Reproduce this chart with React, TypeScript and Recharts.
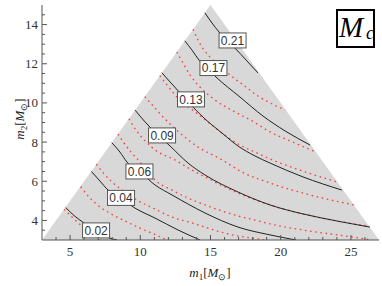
import React from 'react';
import { ComposedChart, XAxis, YAxis, Line, Area, Scatter } from 'recharts';

// allowed region (m2 <= m1, m1 + m2 <= 30)
const regionX = [3, 15, 27];
const regionY = [3, 15, 3];

const xMajorTicks = [5, 10, 15, 20, 25];
const xMinorTicks = [4, 6, 7, 8, 9, 11, 12, 13, 14, 16, 17, 18, 19, 21, 22, 23, 24, 26];
const yMajorTicks = [4, 6, 8, 10, 12, 14];
const yMinorTicks = [3.5, 4.5, 5, 5.5, 6.5, 7, 7.5, 8.5, 9, 9.5, 10.5, 11, 11.5, 12.5, 13, 13.5, 14.5];

// black (solid) contours
const black002 = [[4.68, 4.66], [5.28, 4.25], [5.99, 3.87], [6.85, 3.46], [7.7, 3.13], [8.34, 3.0]];
const black004 = [[6.52, 6.5], [7.13, 6.01], [7.63, 5.6], [8.63, 5.12], [9.62, 4.63], [11.05, 4.12], [12.69, 3.51], [14.25, 3.0]];
const black006 = [[7.97, 7.97], [8.55, 7.49], [9.05, 6.98], [9.94, 6.5], [11.05, 5.81], [12.26, 5.3], [14.61, 4.38], [16.96, 3.66], [19.24, 3.26], [21.09, 3.0]];
const black009 = [[9.63, 9.63], [10.34, 9.03], [11.19, 8.41], [12.12, 7.8], [13.4, 6.93], [14.61, 6.32], [16.96, 5.45], [19.24, 4.79], [21.59, 4.33], [24.01, 3.97], [26.36, 3.66]];
const black013 = [[11.54, 11.54], [12.12, 11.07], [12.83, 10.51], [13.75, 9.79], [14.61, 9.18], [15.82, 8.46], [16.96, 7.8], [18.17, 7.29], [19.24, 6.93], [21.59, 6.22], [24.36, 5.55]];
const black017 = [[13.17, 13.17], [13.68, 12.7], [14.18, 12.19], [14.75, 11.78], [15.32, 11.37], [17.1, 10.3], [18.74, 9.33], [20.31, 8.57], [22.09, 7.85]];
const black021 = [[14.6, 14.6], [15.11, 14.08], [15.61, 13.62], [16.17, 13.21], [16.74, 12.8], [17.6, 12.14], [18.38, 11.53]];

// red (dotted) contours
const red1 = [[4.57, 4.57], [5.14, 4.17], [5.85, 3.71], [6.56, 3.36], [7.13, 3.0]];
const red2 = [[5.75, 5.72], [6.42, 5.14], [7.13, 4.69], [8.06, 4.28], [9.05, 3.92], [10.12, 3.56], [11.12, 3.26], [11.9, 3.0]];
const red3 = [[6.87, 6.87], [7.49, 6.32], [7.99, 5.96], [8.91, 5.45], [9.77, 5.04], [11.05, 4.58], [12.26, 4.17], [13.68, 3.87], [14.82, 3.61], [16.53, 3.26], [17.96, 3.1], [18.81, 3.0]];
const red4 = [[8.41, 8.41], [8.84, 7.95], [9.34, 7.49], [9.98, 6.98], [10.55, 6.47], [11.05, 6.06], [12.26, 5.55], [13.4, 5.14], [14.61, 4.79], [15.82, 4.48], [16.96, 4.23], [18.17, 4.02], [19.24, 3.82], [21.59, 3.51], [24.01, 3.26], [26.5, 3.0]];
const red5 = [[9.19, 9.19], [9.69, 8.62], [10.34, 8.06], [11.05, 7.6], [12.47, 7.09], [13.54, 6.63], [14.61, 6.22], [16.96, 5.4], [19.24, 4.79], [21.59, 4.33], [24.01, 3.97], [26.22, 3.71]];
const red6 = [[10.32, 10.32], [11.05, 9.74], [11.62, 9.28], [12.12, 8.92], [12.83, 8.46], [13.9, 7.85], [15.82, 7.09], [17.24, 6.47], [19.24, 5.91], [22.09, 5.3], [25.22, 4.79]];
const red7 = [[11.39, 11.39], [11.97, 10.86], [12.54, 10.35], [13.26, 9.89], [13.9, 9.54], [14.82, 9.03], [15.82, 8.46], [17.1, 7.85], [18.17, 7.49], [19.24, 7.14], [21.37, 6.57], [24.01, 5.96]];
const red8 = [[12.6, 12.6], [13.04, 12.04], [13.54, 11.43], [14.25, 10.81], [15.32, 10.15], [16.74, 9.54], [17.96, 9.08], [19.24, 8.52], [20.66, 8.06], [22.51, 7.49]];
const red9 = [[13.76, 13.76], [14.11, 13.21], [14.54, 12.7], [15.11, 12.24], [15.82, 11.78], [16.67, 11.27], [17.53, 10.81], [18.38, 10.35], [19.24, 10.0], [20.31, 9.64]];

// contour labels
const labelText = ['0.02', '0.04', '0.06', '0.09', '0.13', '0.17', '0.21'];
const labelX = [6.85, 8.63, 9.94, 11.55, 13.61, 15.21, 16.57];
const labelY = [3.49, 5.15, 6.5, 8.34, 10.18, 11.78, 13.19];

const blackSets = [black002, black004, black006, black009, black013, black017, black021];
const redSets = [red1, red2, red3, red4, red5, red6, red7, red8, red9];

const pts = (arr: number[][]) => arr.map(([x, y]) => ({ x, y }));
const regionData = regionX.map((x, i) => ({ x, y: regionY[i] }));
const labelData = labelText.map((t, i) => ({ x: labelX[i], y: labelY[i], label: t }));
const xTicks = [...xMajorTicks, ...xMinorTicks].sort((a, b) => a - b);
const yTicks = [...yMajorTicks, ...yMinorTicks].sort((a, b) => a - b);

const FRAME = '#555';
const SERIF = '"Liberation Serif", "Times New Roman", serif';

const BottomTick = (props: any) => {
  const { x, y, payload } = props;
  const major = xMajorTicks.includes(payload.value);
  return (
    <g>
      <line x1={x} x2={x} y1={y} y2={y - (major ? 5 : 3)} stroke={FRAME} strokeWidth={1} />
      {major && (
        <text x={x} y={y + 16} textAnchor="middle" fontFamily={SERIF} fontSize={13} fill="#333">
          {payload.value}
        </text>
      )}
    </g>
  );
};
const TopTick = (props: any) => {
  const { x, y, payload } = props;
  const major = xMajorTicks.includes(payload.value);
  return <line x1={x} x2={x} y1={y} y2={y + (major ? 5 : 3)} stroke={FRAME} strokeWidth={1} />;
};
const LeftTick = (props: any) => {
  const { x, y, payload } = props;
  const major = yMajorTicks.includes(payload.value);
  return (
    <g>
      <line x1={x} x2={x + (major ? 5 : 3)} y1={y} y2={y} stroke={FRAME} strokeWidth={1} />
      {major && (
        <text x={x - 4} y={y + 4.5} textAnchor="end" fontFamily={SERIF} fontSize={13} fill="#333">
          {payload.value}
        </text>
      )}
    </g>
  );
};
const RightTick = (props: any) => {
  const { x, y, payload } = props;
  const major = yMajorTicks.includes(payload.value);
  return <line x1={x} x2={x - (major ? 5 : 3)} y1={y} y2={y} stroke={FRAME} strokeWidth={1} />;
};

const LabelBox = (props: any) => {
  const { cx, cy } = props;
  const label = props.payload?.label ?? props.label;
  return (
    <g>
      <rect x={cx - 13.5} y={cy - 7.5} width={27} height={15} fill="#fff" stroke="#555" strokeWidth={1} />
      <text x={cx} y={cy + 4.3} textAnchor="middle" fontFamily='"Liberation Sans", Arial, sans-serif' fontSize={12} fill="#333">
        {label}
      </text>
    </g>
  );
};

export default function App() {
  return (
    <div style={{ position: 'absolute', left: 0, top: 0, width: 382, height: 286, background: '#fff' }}>
      <ComposedChart width={382} height={286} data={regionData} margin={{ top: 5, right: 3, bottom: 0, left: 0 }}>
        <XAxis
          dataKey="x"
          type="number"
          domain={[3, 27]}
          allowDataOverflow
          ticks={xTicks}
          interval={0}
          height={46}
          tickSize={0}
          tickMargin={0}
          tickLine={false}
          axisLine={{ stroke: FRAME }}
          tick={BottomTick}
        />
        <XAxis
          xAxisId="top"
          orientation="top"
          dataKey="x"
          type="number"
          domain={[3, 27]}
          allowDataOverflow
          ticks={xTicks}
          interval={0}
          height={0}
          tickSize={0}
          tickMargin={0}
          tickLine={false}
          axisLine={{ stroke: FRAME }}
          tick={TopTick}
        />
        <YAxis
          type="number"
          domain={[3, 15]}
          allowDataOverflow
          ticks={yTicks}
          interval={0}
          width={42}
          tickSize={0}
          tickMargin={0}
          tickLine={false}
          axisLine={{ stroke: FRAME }}
          tick={LeftTick}
        />
        <YAxis
          yAxisId="right"
          orientation="right"
          type="number"
          domain={[3, 15]}
          allowDataOverflow
          ticks={yTicks}
          interval={0}
          width={0}
          tickSize={0}
          tickMargin={0}
          tickLine={false}
          axisLine={{ stroke: FRAME }}
          tick={RightTick}
        />
        <Area
          dataKey="y"
          type="linear"
          baseValue={3}
          fill="#d8d8d8"
          fillOpacity={1}
          stroke="none"
          isAnimationActive={false}
          activeDot={false}
        />
        {redSets.map((s, i) => (
          <Line
            key={'r' + i}
            data={pts(s)}
            dataKey="y"
            type="monotone"
            stroke="#ff3b3b"
            strokeWidth={1.3}
            strokeDasharray="1.6 3.6"
            dot={false}
            activeDot={false}
            isAnimationActive={false}
          />
        ))}
        {blackSets.map((s, i) => (
          <Line
            key={'b' + i}
            data={pts(s)}
            dataKey="y"
            type="monotone"
            stroke="#222"
            strokeWidth={1}
            dot={false}
            activeDot={false}
            isAnimationActive={false}
          />
        ))}
        <Scatter data={labelData} dataKey="y" shape={LabelBox} isAnimationActive={false} />
      </ComposedChart>
      <svg width={382} height={286} style={{ position: 'absolute', left: 0, top: 0, pointerEvents: 'none' }}>
        <rect x={337} y={10} width={37} height={37} fill="#fff" stroke="#000" strokeWidth={2} />
        <text fontFamily={SERIF} fill="#000">
          <tspan x={339} y={37} fontSize={29} fontStyle="italic">M</tspan>
          <tspan x={366} y={39} fontSize={18} fontStyle="italic">c</tspan>
        </text>
        <text x={210} y={277} textAnchor="middle" fontFamily={SERIF} fontSize={13} fill="#222">
          <tspan fontStyle="italic">m</tspan>
          <tspan fontSize={9} dy={3}>1</tspan>
          <tspan dy={-3}>[</tspan>
          <tspan fontStyle="italic">M</tspan>
          <tspan fontSize={9} dy={3}>⊙</tspan>
          <tspan dy={-3}>]</tspan>
        </text>
        <text x={0} y={0} transform="translate(24,119) rotate(-90)" textAnchor="middle" fontFamily={SERIF} fontSize={13} fill="#222">
          <tspan fontStyle="italic">m</tspan>
          <tspan fontSize={9} dy={3}>2</tspan>
          <tspan dy={-3}>[</tspan>
          <tspan fontStyle="italic">M</tspan>
          <tspan fontSize={9} dy={3}>⊙</tspan>
          <tspan dy={-3}>]</tspan>
        </text>
      </svg>
    </div>
  );
}
